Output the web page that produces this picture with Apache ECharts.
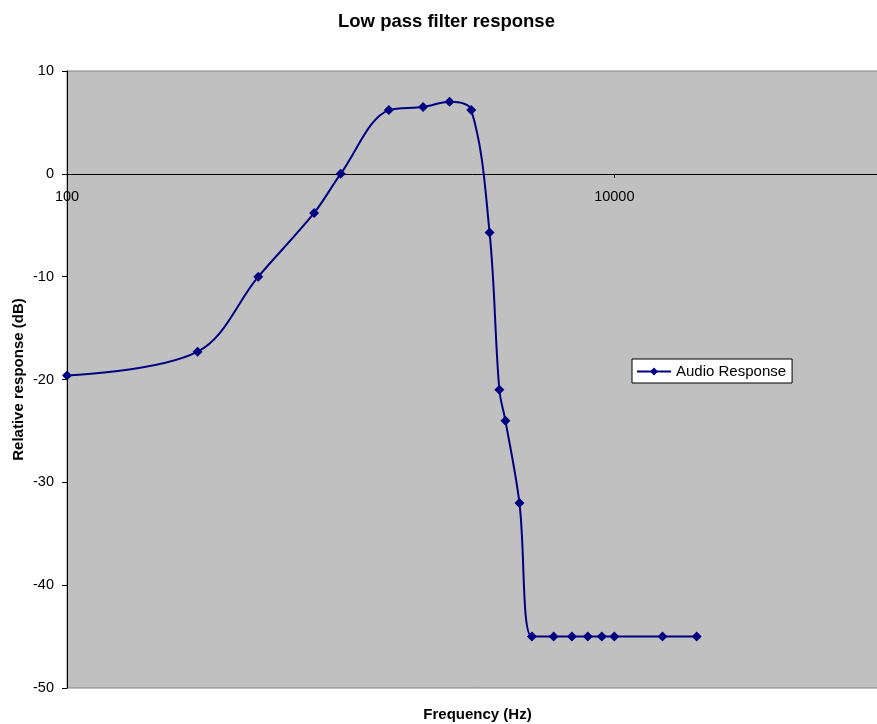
<!DOCTYPE html>
<html><head><meta charset="utf-8">
<script src="https://cdn.jsdelivr.net/npm/echarts@6/dist/echarts.min.js"></script>
<style>html,body{margin:0;padding:0;background:#fff}#c{width:877px;height:724px}</style>
</head><body><div id="c"></div>
<script>
// Data
const frequencies = [100, 300, 500, 800, 1000, 1500, 2000, 2500, 3000, 3500, 3800, 4000, 4500, 5000, 6000, 7000, 8000, 9000, 10000, 15000, 20000];
const responses   = [-19.6, -17.3, -10, -3.8, 0, 6.2, 6.5, 7.0, 6.2, -5.7, -21, -24, -32, -45, -45, -45, -45, -45, -45, -45, -45];
const seriesName = 'Audio Response';
const xTickLabels = [100, 10000];
const yMin = -50, yMax = 10, yStep = 10;
const xMin = 100, xMax = 100000;

const FONT = '"Liberation Sans", Arial, sans-serif';
const GRID_TOP = 71, GRID_H = 617;
const zeroOffset = -(GRID_H * (0 - yMin) / (yMax - yMin));

const chart = echarts.init(document.getElementById('c'), null, {renderer: 'canvas'});
chart.setOption({
  animation: false,
  backgroundColor: '#ffffff',
  title: {
    text: 'Low pass filter response',
    left: 333, top: 7,
    textStyle: {fontFamily: FONT, fontSize: 18.5, fontWeight: 'bold', color: '#000'}
  },
  legend: {
    data: [seriesName],
    left: 632, top: 359,
    backgroundColor: '#ffffff',
    borderColor: '#000', borderWidth: 1, borderRadius: 0,
    padding: [5, 6, 4, 4],
    itemWidth: 34, itemHeight: 10, itemGap: 4,
    textStyle: {fontFamily: FONT, fontSize: 15, color: '#000'}
  },
  grid: {
    left: 67, top: GRID_TOP, width: 821, height: GRID_H,
    outerBoundsMode: 'none', containLabel: false,
    show: true, backgroundColor: '#c0c0c0', borderColor: '#808080', borderWidth: 1
  },
  xAxis: [{
    type: 'log', logBase: 10, min: xMin, max: xMax,
    position: 'bottom', offset: zeroOffset,
    axisLine: {onZero: false, lineStyle: {color: '#000', width: 1}},
    axisTick: {show: true, inside: false, length: 4, lineStyle: {color: '#000'}},
    axisLabel: {
      margin: 16, showMinLabel: true, showMaxLabel: true,
      fontFamily: FONT, fontSize: 14.5, color: '#000',
      formatter: function (v) {
        const r = Math.round(v);
        return xTickLabels.indexOf(r) >= 0 ? String(r) : '';
      }
    },
    splitLine: {show: false}
  }, {
    type: 'value', min: 0, max: 1, position: 'bottom',
    name: 'Frequency (Hz)', nameLocation: 'middle', nameGap: 19,
    nameTextStyle: {fontFamily: FONT, fontSize: 15, fontWeight: 'bold', color: '#000'},
    axisLine: {show: false, onZero: false}, axisTick: {show: false},
    axisLabel: {show: false}, splitLine: {show: false}
  }],
  yAxis: {
    type: 'value', min: yMin, max: yMax, interval: yStep,
    name: 'Relative response (dB)', nameLocation: 'middle', nameGap: 41,
    nameMoveOverlap: false,
    nameTextStyle: {fontFamily: FONT, fontSize: 15, fontWeight: 'bold', color: '#000'},
    axisLine: {show: true, onZero: false, lineStyle: {color: '#000', width: 1}},
    axisTick: {show: true, inside: false, length: 5, lineStyle: {color: '#000'}},
    axisLabel: {margin: 13, fontFamily: FONT, fontSize: 14.5, color: '#000'},
    splitLine: {show: false}
  },
  series: [{
    name: seriesName,
    type: 'line',
    xAxisIndex: 0,
    smooth: 0.35,
    symbol: 'diamond', symbolSize: 10,
    lineStyle: {color: '#000080', width: 2},
    itemStyle: {color: '#000080'},
    data: frequencies.map((f, i) => [f, responses[i]])
  }]
});
</script></body></html>
